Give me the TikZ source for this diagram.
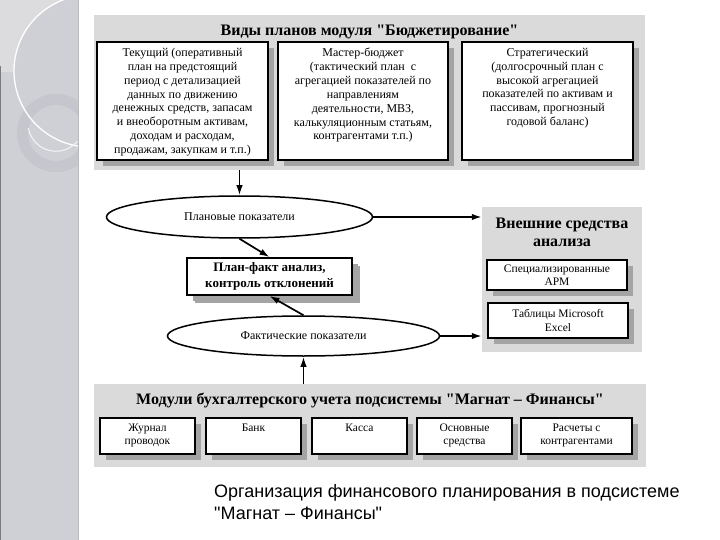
\documentclass[tikz,border=0pt]{standalone}
\usepackage{fontspec}
\setmainfont{Liberation Serif}[Ligatures=TeXOff]
\newfontfamily\capfont{Liberation Sans}
\usetikzlibrary{shapes.geometric,arrows.meta,shadows}
\definecolor{panelgray}{HTML}{DADADA}
\definecolor{shadowgray}{HTML}{A4A4A4}
\definecolor{bandgray}{HTML}{CFCFD6}
\definecolor{bandlight}{HTML}{DCDCDE}
\definecolor{ringgray}{HTML}{C6C6CE}
\definecolor{bandline}{HTML}{7A7A80}
\newcommand\txtfont{\fontsize{12}{13.9}\selectfont}
\newcommand\smfont{\fontsize{11.5}{13.2}\selectfont}
\begin{document}
\begin{tikzpicture}[x=1pt,y=-1pt,
  panel/.style={rectangle, draw=none, fill=panelgray, inner sep=0pt},
  box/.style={rectangle, draw=black, line width=1.8pt, fill=white, inner sep=0pt,
    general shadow={fill=shadowgray, shadow xshift=6pt, shadow yshift=-6pt}},
  ell/.style={ellipse, draw=black, line width=1.5pt, fill=white, inner sep=0pt,
    font=\fontsize{12}{14}\selectfont},
  ttl/.style={font=\fontsize{16}{18}\selectfont\bfseries, align=center, inner sep=0pt},
  sm/.style={font=\smfont},
  arr/.style={-{Latex[length=10pt,width=6.5pt]}, line width=1.7pt}]
\useasboundingbox (0,0) rectangle (720,540);
% left decorative band
\fill[bandgray] (0,0) rectangle (78,540);
\begin{scope}
  \clip (0,0) rectangle (78,540);
  \fill[bandlight] (0,0) rectangle (78,72);
  \fill[bandgray] (90,71) circle[radius=76pt];
  \fill[ringgray, even odd rule] (56,133) circle[radius=39pt] (56,133) circle[radius=28pt];
  \draw[white, line width=1.3pt] (90,71) circle[radius=76pt];
  \draw[white!80!bandgray, line width=1pt] (56,133) ++(190:28) arc[start angle=190, end angle=320, radius=28pt];
\end{scope}
\draw[bandline, line width=1pt] (0.5,66) -- (0.5,540);
\draw[gray!55, line width=0.8pt] (78,0) -- (78,540);

% top panel
\node[panel, minimum width=551pt, minimum height=155pt] (top) at (369.5,92.5) {};
\node[ttl] (toptitle) at (369.5,32) {Виды планов модуля "Бюджетирование"};
\node[box, minimum width=171pt, minimum height=118pt] (b1) at (182.5,101)
  {\parbox[c][106pt][t]{168pt}{\centering\txtfont Текущий (оперативный\\ план на предстоящий\\ период с детализацией\\ данных по движению\\ денежных средств, запасам\\ и внеоборотным активам,\\ доходам и расходам,\\ продажам, закупкам и т.п.)}};
\node[box, minimum width=170pt, minimum height=118pt] (b2) at (363,101)
  {\parbox[c][106pt][t]{168pt}{\centering\txtfont Мастер-бюджет\\ (тактический план~ с\\ агрегацией показателей по\\ направлениям\\ деятельности, МВЗ,\\ калькуляционным статьям,\\ контрагентами т.п.)}};
\node[box, minimum width=171pt, minimum height=118pt] (b3) at (547.5,101)
  {\parbox[c][106pt][t]{168pt}{\centering\txtfont Стратегический\\ (долгосрочный план с\\ высокой агрегацией\\ показателей по активам и\\ пассивам, прогнозный\\ годовой баланс)}};

% middle
\node[ell, minimum width=266pt, minimum height=42pt] (plan) at (239.5,217) {Плановые показатели};
\node[box, minimum width=165pt, minimum height=37pt, align=center,
  font=\fontsize{13}{16}\selectfont\bfseries,
  general shadow={fill=shadowgray, shadow xshift=8pt, shadow yshift=-8pt}] (pf) at (269.5,276.5)
  {План-факт анализ,\\ контроль отклонений};
\node[ell, minimum width=272pt, minimum height=40pt] (fact) at (303.5,336) {Фактические показатели};

% external tools panel
\node[panel, minimum width=160pt, minimum height=145pt] (ext) at (562,279.5) {};
\node[ttl] (exttitle) at (562,232) {Внешние средства\\ анализа};
\node[box, minimum width=140pt, minimum height=30pt, align=center, sm] (arm) at (557,275)
  {Специализированные\\ АРМ};
\node[box, minimum width=140pt, minimum height=35pt, align=center, sm] (xls) at (558,320.5)
  {Таблицы Microsoft\\ Excel};

% bottom panel
\node[panel, minimum width=552pt, minimum height=83pt] (bot) at (370,425.5) {};
\node[ttl] (bottitle) at (370,400) {Модули бухгалтерского учета подсистемы "Магнат – Финансы"};
\node[box, minimum width=95pt, minimum height=36pt] (m1) at (147.5,436)
  {\parbox[c][24pt][t]{93pt}{\centering\smfont Журнал\\ проводок}};
\node[box, minimum width=95pt, minimum height=36pt] (m2) at (253.5,436)
  {\parbox[c][24pt][t]{93pt}{\centering\smfont Банк}};
\node[box, minimum width=95pt, minimum height=36pt] (m3) at (359.5,436)
  {\parbox[c][24pt][t]{93pt}{\centering\smfont Касса}};
\node[box, minimum width=95pt, minimum height=36pt] (m4) at (464.5,436)
  {\parbox[c][24pt][t]{93pt}{\centering\smfont Основные\\ средства}};
\node[box, minimum width=111pt, minimum height=36pt] (m5) at (576.5,436)
  {\parbox[c][24pt][t]{109pt}{\centering\smfont Расчеты с\\ контрагентами}};

% connectors
\draw[arr] (plan.north |- top.south) -- (plan.north);
\draw[arr] (plan.east) -- (plan.east -| ext.west);
\draw[arr] (plan.south) -- (pf.north);
\draw[arr] (fact.north) -- (pf.south);
\draw[arr] (fact.east) -- (fact.east -| ext.west);
\draw[arr] (fact.south |- bot.north) -- (fact.south);

% caption
\node[anchor=north west, inner sep=0pt, align=left, font=\capfont\fontsize{18}{22}\selectfont] (cap) at (214,484)
  {Организация финансового планирования в подсистеме\\ "Магнат – Финансы"};
\end{tikzpicture}
\end{document}
